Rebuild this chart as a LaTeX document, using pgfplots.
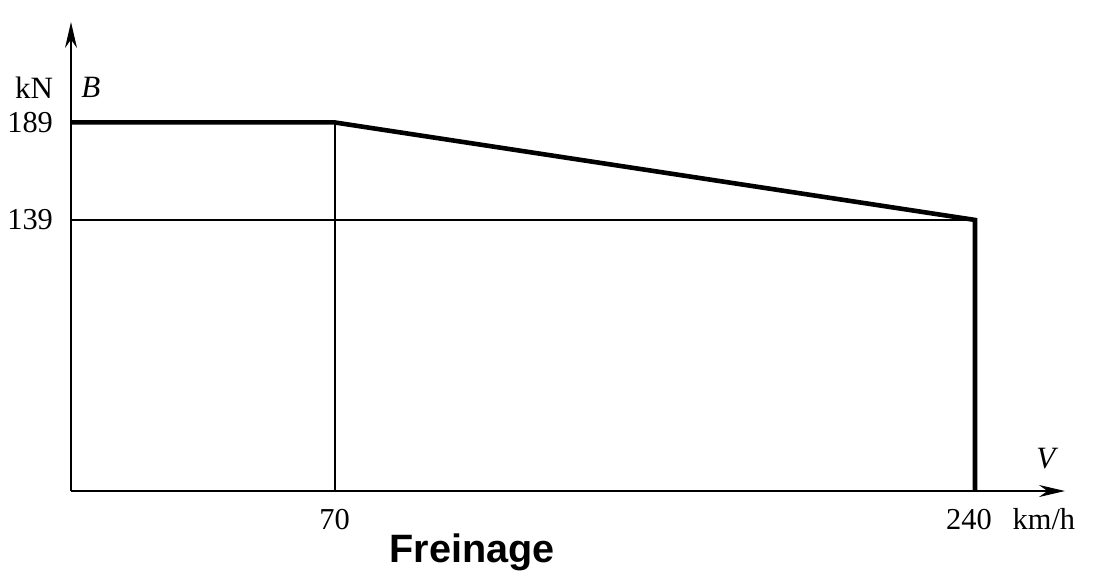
\documentclass[border=0pt]{standalone}
\usepackage{fontspec}
\setmainfont{Liberation Serif}
\newfontfamily\headfont{Liberation Sans}
\usepackage{pgfplots}
\pgfplotsset{compat=1.18}
\usetikzlibrary{arrows.meta}

\begin{document}
\begin{tikzpicture}
\path[use as bounding box] (-35.5pt,-47.5pt) rectangle (512pt,245.5pt);
\begin{axis}[
  at={(0,0)}, anchor=origin,
  scale only axis,
  width=497pt, height=234.5pt,
  xmin=0, xmax=263.9,
  ymin=0, ymax=240.5,
  axis lines=left,
  axis line style={line width=1pt},
  every outer x axis line/.append style={-{Stealth[length=13pt,width=6pt]}},
  every outer y axis line/.append style={-{Stealth[length=13pt,width=6pt]}},
  xtick={70,240}, xticklabels={70,{}},
  ytick={139,189},
  major tick length=0pt,
  tick label style={font=\fontsize{15.2}{18}\selectfont},
  /pgf/number format/assume math mode=true,
  xticklabel style={anchor=base, yshift=-19pt},
  yticklabel style={xshift=-5.5pt},
  clip=false,
]
\addplot[line width=0.9pt] coordinates {(70,0) (70,189)};
\addplot[line width=0.9pt] coordinates {(0,139) (240,139)};
\addplot[line width=2.3pt, line join=miter] coordinates {(0,189) (70,189) (240,139) (240,0)};

\node[font=\fontsize{15.5}{18}\selectfont] at (axis cs:-9.8,207) {kN};
\node[font=\fontsize{15.5}{18}\selectfont\itshape] at (axis cs:5.3,207) {B};
\node[font=\fontsize{15.5}{18}\selectfont\itshape] at (axis cs:258.8,16.4) {V};
\node[font=\fontsize{15.2}{18}\selectfont, anchor=base] at (axis cs:238.4,-19.5) {240};
\node[font=\fontsize{15.2}{18}\selectfont, anchor=base] at (axis cs:258.3,-19.5) {km/h};
\node[font=\fontsize{19.8}{23}\selectfont\headfont\bfseries, anchor=base] at (axis cs:106.5,-36.9) {Freinage};
\end{axis}
\end{tikzpicture}
\end{document}
